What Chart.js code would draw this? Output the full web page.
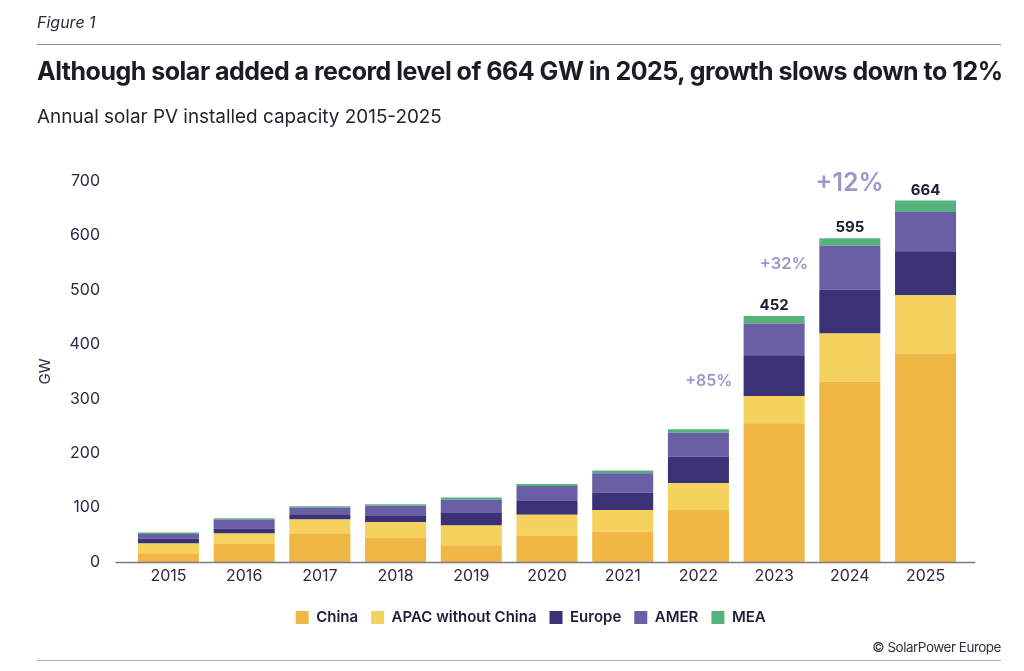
<!DOCTYPE html>
<html>
<head>
<meta charset="utf-8">
<script src="https://cdn.jsdelivr.net/npm/chart.js@4.4.1/dist/chart.umd.min.js"></script>
<style>
  html, body { margin: 0; padding: 0; background: #fff; }
  #wrap { position: relative; width: 1024px; height: 671px; overflow: hidden; font-family: Inter, "Noto Sans", sans-serif; }
  #chart { position: absolute; left: 0; top: 0; }
  .txt { position: absolute; white-space: nowrap; }
  #fig { left: 37px; top: 12px; font-size: 16px; font-style: italic; color: #2b2b33; }
  #title { left: 37px; top: 56px; font-size: 25px; font-weight: 700; color: #1b1b22; letter-spacing: -0.5px; }
  #sub { left: 37px; top: 105px; font-size: 18.9px; color: #24242c; }
  #credit { right: 23px; top: 639px; font-size: 13.5px; color: #33333b; letter-spacing: -0.5px; }
  .rule { position: absolute; left: 37px; width: 964px; height: 1px; background: #8c8c98; }
</style>
</head>
<body>
<div id="wrap">
  <canvas id="chart" width="1024" height="671"></canvas>
  <div class="txt" id="fig">Figure 1</div>
  <div class="rule" style="top:44px"></div>
  <div class="txt" id="title">Although solar added a record level of 664 GW in 2025, growth slows down to 12%</div>
  <div class="txt" id="sub">Annual solar PV installed capacity 2015-2025</div>
  <div class="txt" id="credit">© SolarPower Europe</div>
  <div class="rule" style="top:660px; background:#a8a8b0"></div>
</div>
<script>
// values, GW
const years = ['2015', '2016', '2017', '2018', '2019', '2020', '2021', '2022', '2023', '2024', '2025'];
const china = [16, 34, 53, 45, 31, 48.5, 55.5, 95.5, 255, 331, 383];
const apacExChina = [18, 18.5, 25, 28, 36, 38.5, 40, 49, 50, 89, 107];
const europe = [9, 8.5, 8.5, 11.5, 23, 25, 32, 49, 75, 80, 81];
const amer = [8.5, 17, 13.5, 19, 24.5, 27.5, 35.5, 44, 58, 81, 72];
const mea = [2.5, 2.5, 2.5, 2.5, 4, 4, 5, 6.5, 14, 14, 21];
const totalLabels = ['', '', '', '', '', '', '', '', '452', '595', '664'];
const growthLabels = ['', '', '', '', '', '', '', '+85%', '+32%', '+12%', ''];

const textColor = '#2a2946';
const growthColor = '#9c96cb';

// draws the long baseline, totals and growth notes
const extras = {
    id: 'extras',
    afterLayout(chart) {
        // legend sits a bit right of the plot centre in the original
        chart.legend.left += 31;
        chart.legend.right += 31;
    },
    afterDatasetsDraw(chart) {
        const ctx = chart.ctx;
        const area = chart.chartArea;
        const x = chart.scales.x;
        const y = chart.scales.y;
        ctx.save();
        ctx.strokeStyle = '#7a7a84';
        ctx.lineWidth = 1.5;
        ctx.beginPath();
        ctx.moveTo(area.left - 15, area.bottom + 0.5);
        ctx.lineTo(area.right + 12, area.bottom + 0.5);
        ctx.stroke();

        // totals above the last bars
        const last = chart.getDatasetMeta(chart.data.datasets.length - 1);
        ctx.fillStyle = '#1c1b33';
        ctx.font = '700 15px Inter';
        ctx.textAlign = 'center';
        ctx.textBaseline = 'bottom';
        totalLabels.forEach((t, i) => {
            if (!t) return;
            const bar = last.data[i];
            ctx.fillText(t, bar.x, bar.y - 3);
        });

        // growth notes sit between bars
        const growthY = [0, 0, 0, 0, 0, 0, 0, 332, 547, 696, 0];
        const growthSize = [0, 0, 0, 0, 0, 0, 0, 16, 16.5, 25, 0];
        ctx.fillStyle = growthColor;
        ctx.textAlign = 'right';
        ctx.textBaseline = 'middle';
        growthLabels.forEach((t, i) => {
            if (!t) return;
            const mid = (x.getPixelForValue(i) + x.getPixelForValue(i + 1)) / 2;
            ctx.font = '600 ' + growthSize[i] + 'px Inter';
            ctx.fillText(t, mid - 4, y.getPixelForValue(growthY[i]));
        });
        ctx.restore();
    }
};

function makeSet(label, data, color) {
    return {
        label: label,
        data: data,
        backgroundColor: color,
        borderWidth: 0,
        categoryPercentage: 1,
        barPercentage: 0.806,
        stack: 'all'
    };
}

new Chart(document.getElementById('chart'), {
    type: 'bar',
    data: {
        labels: years,
        datasets: [
            makeSet('China', china, '#f1b744'),
            makeSet('APAC without China', apacExChina, '#f5d25d'),
            makeSet('Europe', europe, '#3a3274'),
            makeSet('AMER', amer, '#6a5fa4'),
            makeSet('MEA', mea, '#55b27d')
        ]
    },
    options: {
        responsive: false,
        animation: false,
        layout: { padding: { top: 181, left: 36, right: 60.6, bottom: 36 } },
        plugins: {
            legend: {
                position: 'bottom',
                labels: {
                    boxWidth: 13,
                    boxHeight: 13,
                    padding: 13,
                    color: '#1f1d3a',
                    font: { family: 'Inter', size: 15, weight: '600' }
                }
            },
            tooltip: { enabled: false }
        },
        scales: {
            x: {
                stacked: true,
                grid: { display: false, drawTicks: false },
                border: { display: false },
                ticks: { color: textColor, padding: 5, font: { family: 'Inter', size: 16 } },
                afterFit(scale) { scale.height = 35; }
            },
            y: {
                stacked: true,
                min: 0,
                max: 700,
                grid: { display: false, drawTicks: false },
                border: { display: false },
                ticks: { stepSize: 100, color: textColor, padding: 30.6, font: { family: 'Inter', size: 16 } },
                title: { display: true, text: 'GW', color: textColor, padding: 0, font: { family: 'Inter', size: 15 } },
                afterFit(scale) { scale.width = 94.6; }
            }
        }
    },
    plugins: [extras]
});
</script>
</body>
</html>
